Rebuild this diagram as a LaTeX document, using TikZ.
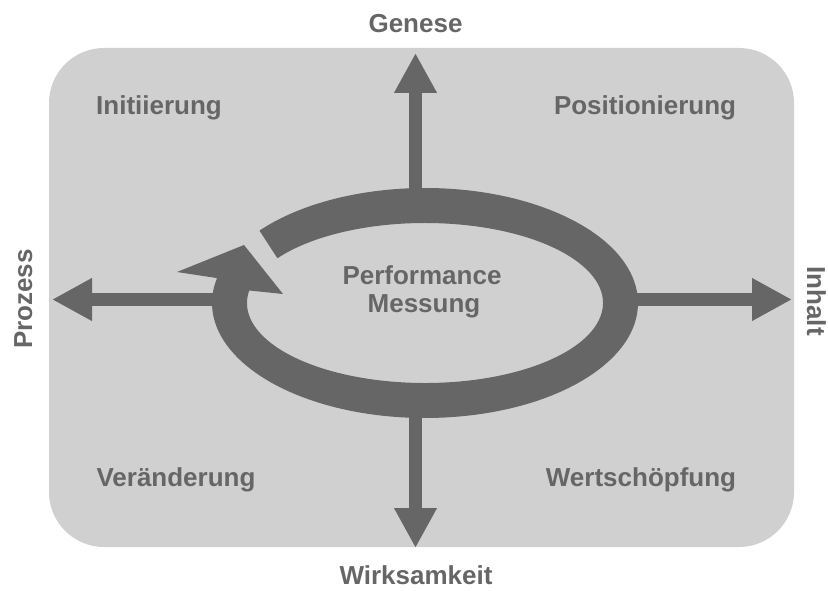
\documentclass[tikz,border=0pt]{standalone}
\usepackage{fontspec}
\setmainfont{Liberation Sans}
\usetikzlibrary{arrows.meta}
\definecolor{panelgray}{HTML}{D0D0D0}
\definecolor{ink}{HTML}{666666}
\begin{document}
\begin{tikzpicture}[x=1pt,y=1pt,
  lbl/.style={font=\bfseries\fontsize{26}{29}\selectfont, text=ink, inner sep=0pt, anchor=base},
  axisarrow/.style={draw=ink, line width=13pt, -{Triangle[length=40pt,width=40pt]}},
  ringband/.style={fill=ink}]
\useasboundingbox (0,0) rectangle (828,590);

% background panel
\fill[panelgray, rounded corners=55pt] (49,43) rectangle (794,542);

% centre of the cycle ring
\coordinate (C) at (425,287);

% axis arrows
\coordinate (upS) at (415.5,390);   \coordinate (upT) at (415.5,537);
\coordinate (dnS) at (415.5,190);   \coordinate (dnT) at (415.5,42);
\coordinate (lfS) at (230,290.5);   \coordinate (lfT) at (52,290.5);
\coordinate (rtS) at (620,290.5);   \coordinate (rtT) at (792,290.5);
\draw[axisarrow] (upS) -- (upT);
\draw[axisarrow] (dnS) -- (dnT);
\draw[axisarrow] (lfS) -- (lfT);
\draw[axisarrow] (rtS) -- (rtT);

% cycle ring with its arrowhead
\coordinate (hl) at (177,318);
\coordinate (ha) at (244,345);
\coordinate (hr) at (283,296);
\fill[ringband]
  ([shift={(C)}]141:213 and 115)
  arc[start angle=141, end angle=-192.5, x radius=213, y radius=115]
  -- (hl) -- (ha) -- (hr)
  -- ([shift={(C)}]-189:178 and 80)
  arc[start angle=-189, end angle=146, x radius=178, y radius=80]
  -- cycle;

% labels
\node[lbl] (genese) at (415.5,557) {Genese};
\node[lbl] (wirk) at (416,6) {Wirksamkeit};
\node[lbl, rotate=90] (prozess) at (32,291) {Prozess};
\node[lbl, rotate=-90] (inhalt) at (807,289) {Inhalt};
\node[lbl] (init) at (159,475) {Initiierung};
\node[lbl] (pos) at (645,475) {Positionierung};
\node[lbl] (ver) at (176,104) {Veränderung};
\node[lbl] (wert) at (641,104) {Wertschöpfung};
\node[lbl] (perf) at (422,305) {Performance};
\node[lbl] (mess) at (424,277) {Messung};
\end{tikzpicture}
\end{document}
